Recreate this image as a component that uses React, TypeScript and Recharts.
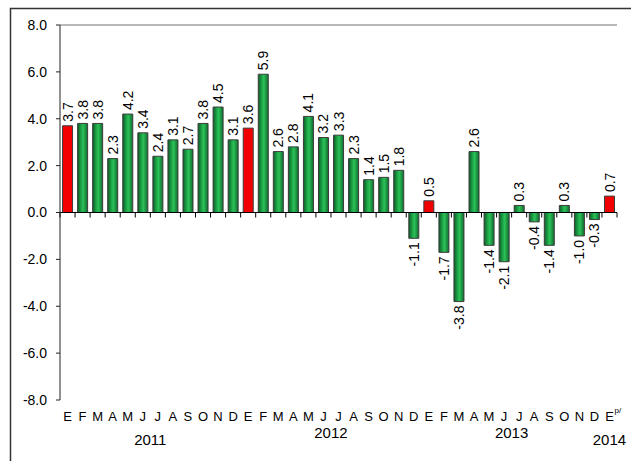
import { BarChart, Bar, XAxis, YAxis, Cell, LabelList, ReferenceLine } from 'recharts'

// months (Spanish initials), year of each bar, and values in %
const months = [
  'E', 'F', 'M', 'A', 'M', 'J', 'J', 'A', 'S', 'O', 'N', 'D',
  'E', 'F', 'M', 'A', 'M', 'J', 'J', 'A', 'S', 'O', 'N', 'D',
  'E', 'F', 'M', 'A', 'M', 'J', 'J', 'A', 'S', 'O', 'N', 'D',
  'E',
]
const years = [
  ...Array(12).fill('2011'),
  ...Array(12).fill('2012'),
  ...Array(12).fill('2013'),
  '2014',
]
const values = [
  3.7, 3.8, 3.8, 2.3, 4.2, 3.4, 2.4, 3.1, 2.7, 3.8, 4.5, 3.1,
  3.6, 5.9, 2.6, 2.8, 4.1, 3.2, 3.3, 2.3, 1.4, 1.5, 1.8, -1.1,
  0.5, -1.7, -3.8, 2.6, -1.4, -2.1, 0.3, -0.4, -1.4, 0.3, -1.0, -0.3,
  0.7,
]
const yTicks = [-8, -6, -4, -2, 0, 2, 4, 6, 8]

const data = values.map((v, i) => ({ key: `${years[i]}-${i}`, month: months[i], year: years[i], value: v }))

const W = 631
const H = 461
const M = { top: 25, right: 14, bottom: 0, left: 0 }
const Y_AXIS_W = 60
const X_AXIS_H = 61
const BAND = (W - M.left - Y_AXIS_W - M.right) / values.length
const FONT = '"Liberation Sans", Arial, sans-serif'

// baseline shift for each year label, as in the original
const yearDy: Record<string, number> = { '2011': 45, '2012': 38, '2013': 38, '2014': 45 }

function MonthTick(props: any) {
  const { x, y, index } = props
  const i = index ?? props.payload?.index ?? 0
  const yr = years[i]
  const start = years.indexOf(yr)
  const end = years.lastIndexOf(yr)
  const center = (start + end + 1) / 2
  const showYear = i === Math.floor(center)
  const yearX = x + (center - i - 0.5) * BAND
  const last = i === values.length - 1
  return (
    <g>
      <text x={x} y={y + 21} textAnchor="middle" fontSize={13} fontFamily={FONT} fill="#000">
        {months[i]}
      </text>
      {last && (
        <text x={x + 5} y={y + 13} fontSize={8} fontFamily={FONT} fill="#000">p/</text>
      )}
      {showYear && (
        <text x={yearX} y={y + yearDy[yr]} textAnchor="middle" fontSize={15} fontFamily={FONT} fill="#000">
          {yr}
        </text>
      )}
    </g>
  )
}

function ValueLabel(props: any) {
  const { x, y, width, height, value } = props
  const cx = Number(x) + Number(width) / 2
  const top = Math.min(Number(y), Number(y) + Number(height))
  const bottom = Math.max(Number(y), Number(y) + Number(height))
  const pos = value >= 0
  const ty = pos ? top - 4 : bottom + 4
  return (
    <text
      x={cx}
      y={ty}
      transform={`rotate(-90 ${cx} ${ty})`}
      textAnchor={pos ? 'start' : 'end'}
      dominantBaseline="central"
      fontSize={14}
      fontFamily={FONT}
      fill="#000"
    >
      {Number(value).toFixed(1)}
    </text>
  )
}

// zero line with small ticks between the months
function ZeroLine(props: any) {
  const { x1, x2, y1 } = props
  const step = (x2 - x1) / values.length
  return (
    <g>
      <line x1={x1} x2={x2} y1={y1} y2={y1} stroke="#000" strokeWidth={1} />
      {Array.from({ length: values.length + 1 }, (_, k) => (
        <line key={k} x1={x1 + k * step} x2={x1 + k * step} y1={y1} y2={y1 + 5} stroke="#000" strokeWidth={1} />
      ))}
    </g>
  )
}

export default function App() {
  return (
    <div style={{ position: 'absolute', left: 0, top: 0, width: W, height: H, background: '#fff', overflow: 'hidden' }}>
      <div style={{ position: 'absolute', left: 0, top: 0 }}>
        <BarChart width={W} height={H} data={data} margin={M} barCategoryGap="17%">
          <defs>
            <linearGradient id="greenBar" x1="0" y1="0" x2="1" y2="0">
              <stop offset="0%" stopColor="#0a5a24" />
              <stop offset="30%" stopColor="#1a9a42" />
              <stop offset="55%" stopColor="#2cc158" />
              <stop offset="100%" stopColor="#0e6c2d" />
            </linearGradient>
          </defs>
          <XAxis
            dataKey="key"
            height={X_AXIS_H}
            axisLine={false}
            tickLine={false}
            tickSize={0}
            tickMargin={0}
            interval={0}
            tick={<MonthTick />}
          />
          <YAxis
            domain={[-8, 8]}
            ticks={yTicks}
            width={Y_AXIS_W}
            tickFormatter={(v: number) => v.toFixed(1)}
            tick={{ fontSize: 14, fontFamily: FONT, fill: '#000' }}
            tickSize={4}
            tickMargin={9}
            axisLine={{ stroke: '#222' }}
            tickLine={{ stroke: '#222' }}
            allowDataOverflow
          />
          <YAxis
            yAxisId="frame"
            orientation="right"
            width={0}
            domain={[-8, 8]}
            tick={false}
            tickLine={false}
            axisLine={{ stroke: '#a0a0a0', strokeWidth: 2 }}
          />
          <ReferenceLine y={8} stroke="#a0a0a0" strokeWidth={1.5} />
          <Bar dataKey="value" isAnimationActive={false} stroke="#3c3c3c" strokeWidth={1}>
            {data.map((d, i) => (
              <Cell key={i} fill={d.month === 'E' ? '#f20000' : 'url(#greenBar)'} />
            ))}
            <LabelList dataKey="value" content={<ValueLabel />} />
          </Bar>
          <ReferenceLine y={0} shape={<ZeroLine />} />
        </BarChart>
      </div>
      {/* outer frame of the original picture */}
      <svg width={W} height={H} style={{ position: 'absolute', left: 0, top: 0, pointerEvents: 'none' }}>
        <rect x={10.5} y={8.5} width={700} height={500} fill="none" stroke="#333" strokeWidth={1.5} />
      </svg>
    </div>
  )
}
